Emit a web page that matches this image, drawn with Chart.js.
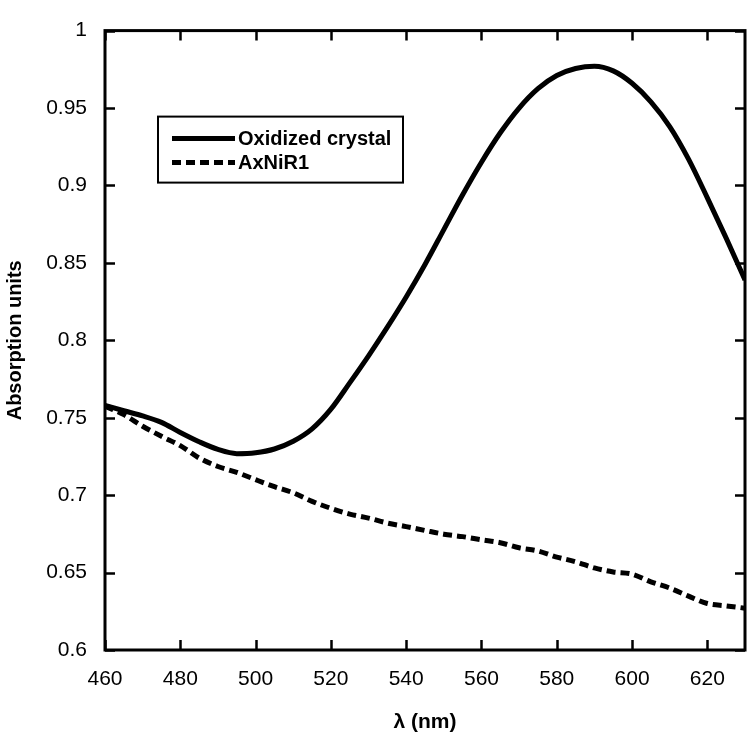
<!DOCTYPE html>
<html>
<head>
<meta charset="utf-8">
<script src="https://cdn.jsdelivr.net/npm/chart.js@4.4.1/dist/chart.umd.min.js"></script>
<style>
  html, body { margin: 0; padding: 0; background: #ffffff; }
  #wrap { width: 748px; height: 735px; }
</style>
</head>
<body>
<div id="wrap"><canvas id="c" width="748" height="735"></canvas></div>
<script>
// ---- data ----
const wavelengths = [460,465,470,475,480,485,490,495,500,505,510,515,520,525,530,535,540,545,550,555,560,565,570,575,580,585,590,595,600,605,610,615,620,625,630];
const oxidizedCrystal = [0.758,0.7545,0.7512,0.7470,0.7405,0.7345,0.7295,0.7268,0.7274,0.7298,0.7348,0.7428,0.7555,0.7725,0.7900,0.8085,0.8280,0.8490,0.8715,0.8940,0.9150,0.9340,0.9500,0.9625,0.9710,0.9755,0.9770,0.9740,0.9660,0.9540,0.9380,0.9170,0.8920,0.8660,0.8390];
const axNiR1 = [0.7574,0.752,0.7445,0.738,0.732,0.724,0.7185,0.7147,0.710,0.7055,0.7015,0.696,0.6915,0.6878,0.6852,0.682,0.6797,0.6772,0.6748,0.6732,0.6712,0.6693,0.666,0.664,0.660,0.657,0.653,0.6504,0.649,0.644,0.640,0.6348,0.630,0.6285,0.627];
const seriesLabels = ['Oxidized crystal', 'AxNiR1'];
const xTicks = [460,480,500,520,540,560,580,600,620];
const yTicks = [0.6,0.65,0.7,0.75,0.8,0.85,0.9,0.95,1];
const xTitle = 'λ (nm)';
const yTitle = 'Absorption units';

const FONT = '"Liberation Sans", Arial, Helvetica, sans-serif';

const framePlugin = {
  id: 'frame',
  afterDatasetsDraw(chart) {
    const ctx = chart.ctx;
    const a = chart.chartArea;
    const xs = chart.scales.x, ys = chart.scales.y;
    ctx.save();
    ctx.strokeStyle = '#000';
    ctx.lineWidth = 3;
    ctx.strokeRect(a.left, a.top, a.right - a.left, a.bottom - a.top);
    ctx.lineWidth = 2.5;
    const L = 10;
    ctx.beginPath();
    xTicks.forEach(v => {
      const p = Math.round(xs.getPixelForValue(v)) + 0.5;
      ctx.moveTo(p, a.bottom); ctx.lineTo(p, a.bottom - L);
      ctx.moveTo(p, a.top); ctx.lineTo(p, a.top + L);
    });
    yTicks.forEach(v => {
      const p = Math.round(ys.getPixelForValue(v)) + 0.5;
      ctx.moveTo(a.left, p); ctx.lineTo(a.left + L, p);
      ctx.moveTo(a.right, p); ctx.lineTo(a.right - L, p);
    });
    ctx.stroke();

    // legend box
    const bx = a.left + 53, by = a.top + 86, bw = 245, bh = 66;
    ctx.fillStyle = '#fff';
    ctx.fillRect(bx, by, bw, bh);
    ctx.lineWidth = 2;
    ctx.strokeRect(bx, by, bw, bh);
    const rows = [by + 22, by + 46];
    chart.data.datasets.forEach((ds, i) => {
      const y = rows[i];
      ctx.beginPath();
      ctx.lineWidth = ds.borderWidth;
      ctx.setLineDash(ds.borderDash || []);
      ctx.lineCap = 'butt';
      ctx.moveTo(bx + 14, y);
      ctx.lineTo(bx + 77, y);
      ctx.stroke();
      ctx.setLineDash([]);
      ctx.fillStyle = '#000';
      ctx.font = 'bold 20px ' + FONT;
      ctx.textBaseline = 'middle';
      ctx.textAlign = 'left';
      ctx.fillText(ds.label, bx + 80, y + 1);
    });
    ctx.restore();
  }
};

new Chart(document.getElementById('c'), {
  type: 'line',
  data: {
    datasets: [
      {
        label: seriesLabels[0],
        data: wavelengths.map((x, i) => ({ x, y: oxidizedCrystal[i] })),
        borderColor: '#000',
        borderWidth: 5,
        pointRadius: 0,
        fill: false,
        cubicInterpolationMode: 'monotone'
      },
      {
        label: seriesLabels[1],
        data: wavelengths.map((x, i) => ({ x, y: axNiR1[i] })),
        borderColor: '#000',
        borderWidth: 5,
        borderDash: [9, 5],
        pointRadius: 0,
        fill: false,
        cubicInterpolationMode: 'monotone'
      }
    ]
  },
  options: {
    responsive: false,
    animation: false,
    devicePixelRatio: 1,
    layout: { padding: { left: 0, right: 3, top: 9, bottom: 0 } },
    plugins: { legend: { display: false }, tooltip: { enabled: false } },
    scales: {
      x: {
        type: 'linear',
        min: 460, max: 630,
        afterBuildTicks: s => { s.ticks = xTicks.map(v => ({ value: v })); },
        afterFit: s => { s.height = 85; },
        grid: { display: false, drawTicks: false },
        border: { display: false },
        ticks: { color: '#000', font: { family: FONT, size: 21 }, padding: 17, maxRotation: 0, autoSkip: false },
        title: { display: true, text: xTitle, color: '#000', font: { family: FONT, size: 21, weight: 'bold' }, padding: { top: 0, bottom: 0 } }
      },
      y: {
        type: 'linear',
        min: 0.6, max: 1,
        afterBuildTicks: s => { s.ticks = yTicks.map(v => ({ value: v })); },
        afterFit: s => { s.width = 105; },
        grid: { display: false, drawTicks: false },
        border: { display: false },
        ticks: {
          color: '#000', font: { family: FONT, size: 21 }, padding: 18, autoSkip: false,
          callback: v => String(Number(v.toFixed(2)))
        },
        title: { display: true, text: yTitle, color: '#000', font: { family: FONT, size: 20, weight: 'bold' }, padding: { top: 3, bottom: 0 } }
      }
    }
  },
  plugins: [framePlugin]
});
</script>
</body>
</html>
